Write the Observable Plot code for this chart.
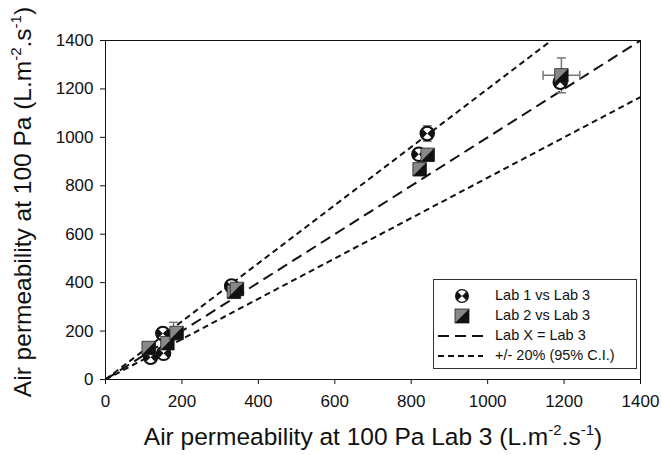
<!DOCTYPE html>
<html><head><meta charset="utf-8">
<script src="https://cdn.jsdelivr.net/npm/d3@7"></script>
<script src="https://cdn.jsdelivr.net/npm/@observablehq/plot@0.6"></script>
<style>
body{margin:0;background:#fff;font-family:"Liberation Sans",Arial,sans-serif;}
#wrap{position:relative;width:662px;height:455px;overflow:hidden;}
#legend{position:absolute;left:433px;top:279px;width:204px;height:90px;border:1px solid #333;background:#fff;box-sizing:border-box;}
.row{position:absolute;left:0;height:20px;width:100%;}
.row span{position:absolute;left:61px;top:1px;font-size:14.5px;color:#111;white-space:nowrap;}
.row svg{position:absolute;left:3px;top:0;}
</style></head>
<body><div id="wrap"><div id="chart"></div><div id="legend"></div></div>
<script>
// Data
const xTicks = [0, 200, 400, 600, 800, 1000, 1200, 1400];
const yTicks = [0, 200, 400, 600, 800, 1000, 1200, 1400];
const lab1X = [118, 152, 150, 330, 820, 842, 1190];
const lab1Y = [92, 108, 190, 386, 930, 1016, 1228];
const lab2X = [113, 162, 186, 336, 344, 843, 822, 1193];
const lab2Y = [130, 150, 192, 362, 374, 928, 868, 1256];
const errX = [842, 1193, 1193, 178];
const errY = [1016, 1256, 1256, 200];
const errDir = ["y", "x", "y", "y"];
const errSize = [32, 48, 72, 36];
const lineSlopes = [1, 1.2, 1 / 1.2];
const lineKind = ["equal", "ci", "ci"];
const legendLabels = ["Lab 1 vs Lab 3", "Lab 2 vs Lab 3", "Lab X = Lab 3", "+/- 20% (95% C.I.)"];

const lab1 = lab1X.map((x, i) => ({x, y: lab1Y[i]}));
const lab2 = lab2X.map((x, i) => ({x, y: lab2Y[i]}));
const errs = errX.map((x, i) => ({x, y: errY[i], dir: errDir[i], e: errSize[i]}));
const refs = lineSlopes.map((k, i) => ({x1: 0, y1: 0, x2: 1400, y2: 1400 * k, kind: lineKind[i]}));

// custom symbols
const wedges = {draw(ctx, size) {
  const r = Math.sqrt(size / Math.PI) * 0.82;
  ctx.moveTo(0, 0); ctx.arc(0, 0, r, -3 * Math.PI / 4, -Math.PI / 4); ctx.closePath();
  ctx.moveTo(0, 0); ctx.arc(0, 0, r, Math.PI / 4, 3 * Math.PI / 4); ctx.closePath();
}};
const lowerTri = {draw(ctx, size) {
  const h = Math.sqrt(size) / 2;
  ctx.moveTo(h, -h); ctx.lineTo(h, h); ctx.lineTo(-h, h); ctx.closePath();
}};
const hCap = {draw(ctx) { ctx.moveTo(-4.5, 0); ctx.lineTo(4.5, 0); }};
const vCap = {draw(ctx) { ctx.moveTo(0, -4.5); ctx.lineTo(0, 4.5); }};

const ex = errs.filter(d => d.dir === "x");
const ey = errs.filter(d => d.dir === "y");
const capsV = ey.flatMap(d => [{x: d.x, y: d.y - d.e}, {x: d.x, y: d.y + d.e}]);
const capsH = ex.flatMap(d => [{x: d.x - d.e, y: d.y}, {x: d.x + d.e, y: d.y}]);

const plot = Plot.plot({
  width: 662, height: 455,
  marginLeft: 105, marginRight: 22, marginTop: 40, marginBottom: 76,
  style: {fontFamily: "Liberation Sans, Arial, sans-serif", fontSize: "17px", color: "#111", background: "white", overflow: "visible"},
  x: {type: "linear", domain: [0, 1400]},
  y: {type: "linear", domain: [0, 1400]},
  marks: [
    Plot.link(refs.filter(d => d.kind === "equal"), {x1: "x1", y1: "y1", x2: "x2", y2: "y2", stroke: "#111", strokeWidth: 2, strokeDasharray: "11,6", clip: true}),
    Plot.link(refs.filter(d => d.kind === "ci"), {x1: "x1", y1: "y1", x2: "x2", y2: "y2", stroke: "#111", strokeWidth: 2, strokeDasharray: "6,4", clip: true}),
    Plot.link(ex, {y1: "y", y2: "y", x1: d => d.x - d.e, x2: d => d.x + d.e, stroke: "#777", strokeWidth: 1.5}),
    Plot.link(ey, {x1: "x", x2: "x", y1: d => d.y - d.e, y2: d => d.y + d.e, stroke: "#777", strokeWidth: 1.5}),
    Plot.dot(capsV, {x: "x", y: "y", symbol: hCap, stroke: "#777", strokeWidth: 1.5, fill: "none"}),
    Plot.dot(capsH, {x: "x", y: "y", symbol: vCap, stroke: "#777", strokeWidth: 1.5, fill: "none"}),
    Plot.dot(lab1, {x: "x", y: "y", r: 7, fill: "#111", stroke: "#111", symbol: "circle"}),
    Plot.dot(lab1, {x: "x", y: "y", r: 7, fill: "white", symbol: wedges}),
    Plot.dot(lab2, {x: "x", y: "y", r: 7.6, fill: "#888", stroke: "#222", strokeWidth: 0.8, symbol: "square"}),
    Plot.dot(lab2, {x: "x", y: "y", r: 7.6, fill: "#111", symbol: lowerTri}),
    Plot.frame({stroke: "#111", strokeWidth: 1}),
    Plot.axisX({ticks: xTicks, tickFormat: d => String(d), tickSize: 5, tickPadding: 10, fontSize: 17, label: null}),
    Plot.axisY({ticks: yTicks, tickFormat: d => String(d), tickSize: 5, tickPadding: 7, fontSize: 17, label: null})
  ]
});
document.getElementById("chart").appendChild(plot);

// Axis titles with superscripts
const svg = d3.select(plot);
function title(sel, main) {
  sel.append("tspan").text(main);
  sel.append("tspan").attr("dy", -10).style("font-size", "15px").text("-2");
  sel.append("tspan").attr("dy", 10).text(".s");
  sel.append("tspan").attr("dy", -10).style("font-size", "15px").text("-1");
  sel.append("tspan").attr("dy", 10).text(")");
}
title(svg.append("text").attr("transform", "translate(31,202) rotate(-90)")
  .attr("text-anchor", "middle").style("font-size", "24.5px").attr("fill", "#111"),
  "Air permeability at 100 Pa (L.m");
title(svg.append("text").attr("transform", "translate(373,445)")
  .attr("text-anchor", "middle").style("font-size", "24.5px").attr("fill", "#111"),
  "Air permeability at 100 Pa Lab 3 (L.m");

// Legend
const icons = [
  `<svg width="48" height="20"><circle cx="25" cy="10" r="7" fill="#111"/><path d="M25,10 L20.9,5.9 A5.8,5.8 0 0 1 29.1,5.9 Z M25,10 L29.1,14.1 A5.8,5.8 0 0 1 20.9,14.1 Z" fill="#fff"/></svg>`,
  `<svg width="48" height="20"><rect x="18" y="3" width="14" height="14" fill="#888" stroke="#222" stroke-width="0.8"/><path d="M32,3 L32,17 L18,17 Z" fill="#111"/></svg>`,
  `<svg width="48" height="20"><line x1="1" y1="10" x2="46" y2="10" stroke="#111" stroke-width="2" stroke-dasharray="11,6"/></svg>`,
  `<svg width="48" height="20"><line x1="1" y1="10" x2="46" y2="10" stroke="#111" stroke-width="2" stroke-dasharray="6,4"/></svg>`
];
const tops = [6, 26, 46, 66];
const lg = document.getElementById("legend");
legendLabels.forEach((t, i) => {
  const r = document.createElement("div");
  r.className = "row"; r.style.top = tops[i] + "px";
  r.innerHTML = icons[i] + `<span>${t}</span>`;
  lg.appendChild(r);
});
</script></body></html>
